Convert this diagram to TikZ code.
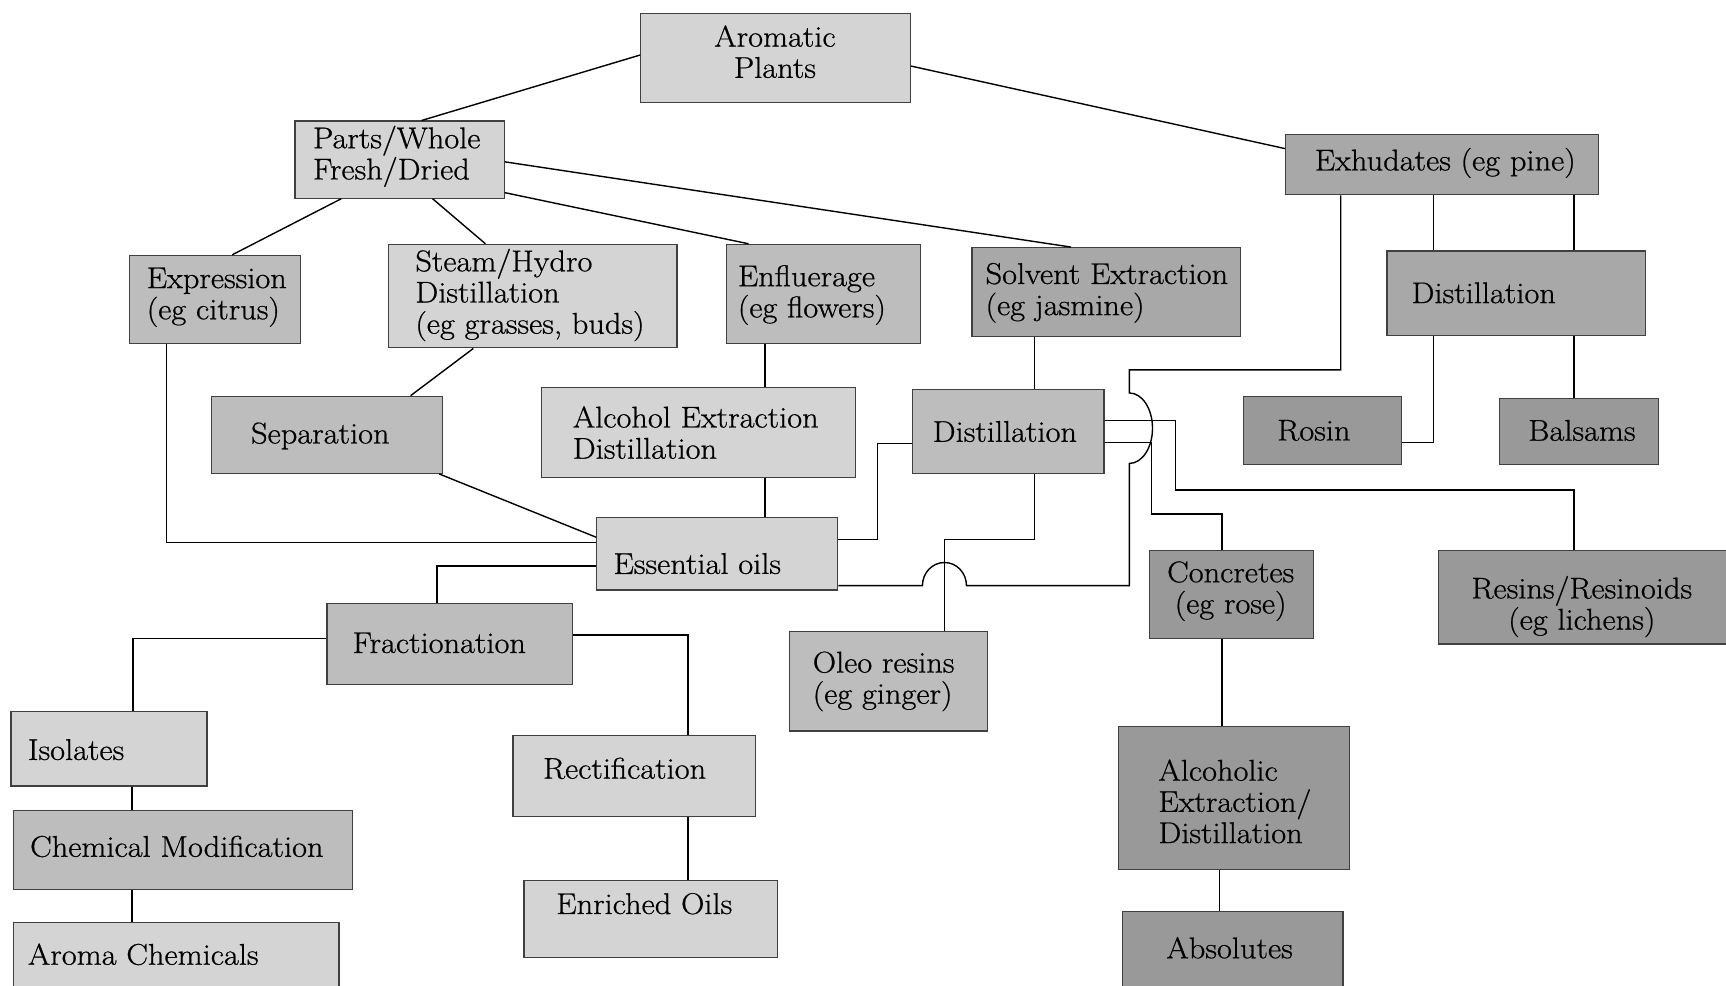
\documentclass[tikz,border=0pt]{standalone}
\usepackage{fontspec}
\setmainfont{Latin Modern Roman}[FakeStretch=1.08, FakeBold=0.7]
\usetikzlibrary{fit}
\colorlet{lt}{black!17}
\colorlet{md}{black!26}
\colorlet{dk}{black!34}
\colorlet{dkk}{black!40}
\tikzset{
  boxst/.style={draw=black!75, line width=0.6pt, inner sep=0pt},
  txt/.style={inner sep=0pt, font=\fontsize{15}{15.6}\selectfont},
  con/.style={draw=black, line width=0.7pt},
}
\newcommand\bx[6]{\node[boxst, fill=#6, fit={(#2,#3) (#4,#5)}] (#1) {};}
\begin{document}
\begin{tikzpicture}[x=0.5504pt, y=-0.5504pt]
\useasboundingbox (0,0) rectangle (1568,895);
\fill[white] (0,0) rectangle (1568,895);
% boxes
\bx{aro}{582}{12}{827}{93}{lt}
\bx{parts}{268}{110}{458}{180}{lt}
\bx{exh}{1168}{122}{1452}{177}{dk}
\bx{expr}{118}{232}{273}{312}{md}
\bx{steam}{353}{222}{615}{316}{lt}
\bx{enfl}{660}{222}{836}{312}{md}
\bx{solv}{883}{225}{1127}{306}{dk}
\bx{distr}{1260}{228}{1495}{305}{dk}
\bx{sep}{192}{360}{402}{430}{md}
\bx{alc}{492}{352}{777}{434}{lt}
\bx{distm}{829}{354}{1003}{430}{md}
\bx{rosin}{1130}{360}{1273}{422}{dkk}
\bx{bals}{1362}{362}{1507}{422}{dkk}
\bx{ess}{542}{470}{761}{536}{lt}
\bx{conc}{1044}{500}{1193}{580}{dkk}
\bx{resin}{1307}{500}{1572}{585}{dkk}
\bx{frac}{297}{548}{520}{622}{md}
\bx{oleo}{717}{574}{897}{664}{md}
\bx{iso}{10}{646}{188}{714}{lt}
\bx{rect}{466}{668}{686}{742}{lt}
\bx{chem}{12}{736}{320}{808}{md}
\bx{enr}{476}{800}{706}{870}{lt}
\bx{alch}{1016}{660}{1226}{790}{dkk}
\bx{aroma}{12}{838}{308}{905}{lt}
\bx{abs}{1020}{828}{1220}{905}{dkk}
% texts
\node[txt, align=center] (aro-t) at (704,47) {Aromatic\\Plants};
\node[txt, align=left, anchor=west] (parts-t) at (284,142) {Parts/Whole\\Fresh/Dried};
\node[txt] (exh-t) at (1313,148) {Exhudates (eg pine)};
\node[txt, align=left, anchor=west] (expr-t) at (133,270) {Expression\\(eg citrus)};
\node[txt, align=left, anchor=west] (steam-t) at (377,268) {Steam/Hydro\\Distillation\\(eg grasses, buds)};
\node[txt, align=left, anchor=west] (enfl-t) at (670,268) {Enfluerage\\(eg flowers)};
\node[txt, align=left, anchor=west] (solv-t) at (895,266) {Solvent Extraction\\(eg jasmine)};
\node[txt, anchor=west] (distr-t) at (1282,266) {Distillation};
\node[txt] (sep-t) at (291,396) {Separation};
\node[txt, align=left, anchor=west] (alc-t) at (520,393) {Alcohol Extraction\\Distillation};
\node[txt, anchor=west] (distm-t) at (847,392) {Distillation};
\node[txt, anchor=west] (rosin-t) at (1160,391) {Rosin};
\node[txt, anchor=west] (bals-t) at (1388,391) {Balsams};
\node[txt, anchor=west] (ess-t) at (557,512) {Essential oils};
\node[txt, align=center] (conc-t) at (1118,537) {Concretes\\(eg rose)};
\node[txt, align=center] (resin-t) at (1437,551) {Resins/Resinoids\\(eg lichens)};
\node[txt, anchor=west] (frac-t) at (320,584) {Fractionation};
\node[txt, align=left, anchor=west] (oleo-t) at (738,619) {Oleo resins\\(eg ginger)};
\node[txt, anchor=west] (iso-t) at (25,681) {Isolates};
\node[txt, anchor=west] (rect-t) at (493,698) {Rectification};
\node[txt, anchor=west] (chem-t) at (27,769) {Chemical Modification};
\node[txt, anchor=west] (enr-t) at (505,821) {Enriched Oils};
\node[txt, align=left, anchor=west] (alch-t) at (1052,728) {Alcoholic\\Extraction/\\Distillation};
\node[txt, anchor=west] (aroma-t) at (25,867) {Aroma Chemicals};
\node[txt] (abs-t) at (1117,861) {Absolutes};
% connectors
\draw[con] (aro.west |- 0,50) -- (parts.north -| 383,0);
\draw[con] (aro.east |- 0,60) -- (exh.west |- 0,135);
\draw[con] (parts.east |- 0,147) -- (solv.north -| 973,0);
\draw[con] (parts.east |- 0,175) -- (enfl.north -| 680,0);
\draw[con] (parts.south -| 393,0) -- (steam.north -| 441,0);
\draw[con] (parts.south -| 310,0) -- (expr.north -| 211,0);
\draw[con] (steam.south -| 430,0) -- (sep.north -| 373,0);
\draw[con] (expr.south -| 151,0) |- (ess.west |- 0,493);
\draw[con] (sep.south -| 399,0) -- (ess.west |- 0,488);
\draw[con] (enfl.south -| 695,0) -- (alc.north -| 695,0);
\draw[con] (alc.south -| 695,0) -- (ess.north -| 695,0);
\draw[con] (ess.east |- 0,490) -| (797,403) -- (distm.west |- 0,403);
\draw[con] (solv.south -| 940,0) -- (distm.north -| 940,0);
\draw[con] (distm.south -| 940,0) |- (858,490) -- (oleo.north -| 858,0);
\draw[con] (exh.south -| 1218,0) |- (1026,336) -- (1026,357)
  arc[start angle=-90, end angle=90, x radius=21, y radius=32]
  -- (1026,532) -- (878,532)
  arc[start angle=0, end angle=-180, x radius=20, y radius=21]
  -- (ess.east |- 0,532);
\draw[con] (distm.east |- 0,382) -| (1068,445) -| (resin.north -| 1430,0);
\draw[con] (distm.east |- 0,402) -| (1046,467) -| (conc.north -| 1110,0);
\draw[con] (exh.south -| 1302,0) -- (distr.north -| 1302,0);
\draw[con] (exh.south -| 1430,0) -- (distr.north -| 1430,0);
\draw[con] (distr.south -| 1302,0) |- (rosin.east |- 0,402);
\draw[con] (distr.south -| 1430,0) -- (bals.north -| 1430,0);
\draw[con] (conc.south -| 1110,0) -- (alch.north -| 1110,0);
\draw[con] (alch.south -| 1108,0) -- (abs.north -| 1108,0);
\draw[con] (ess.west |- 0,514) -| (frac.north -| 397,0);
\draw[con] (frac.west |- 0,580) -| (iso.north -| 121,0);
\draw[con] (frac.east |- 0,577) -| (rect.north -| 625,0);
\draw[con] (iso.south -| 120,0) -- (chem.north -| 120,0);
\draw[con] (chem.south -| 120,0) -- (aroma.north -| 120,0);
\draw[con] (rect.south -| 625,0) -- (enr.north -| 625,0);
\end{tikzpicture}
\end{document}
